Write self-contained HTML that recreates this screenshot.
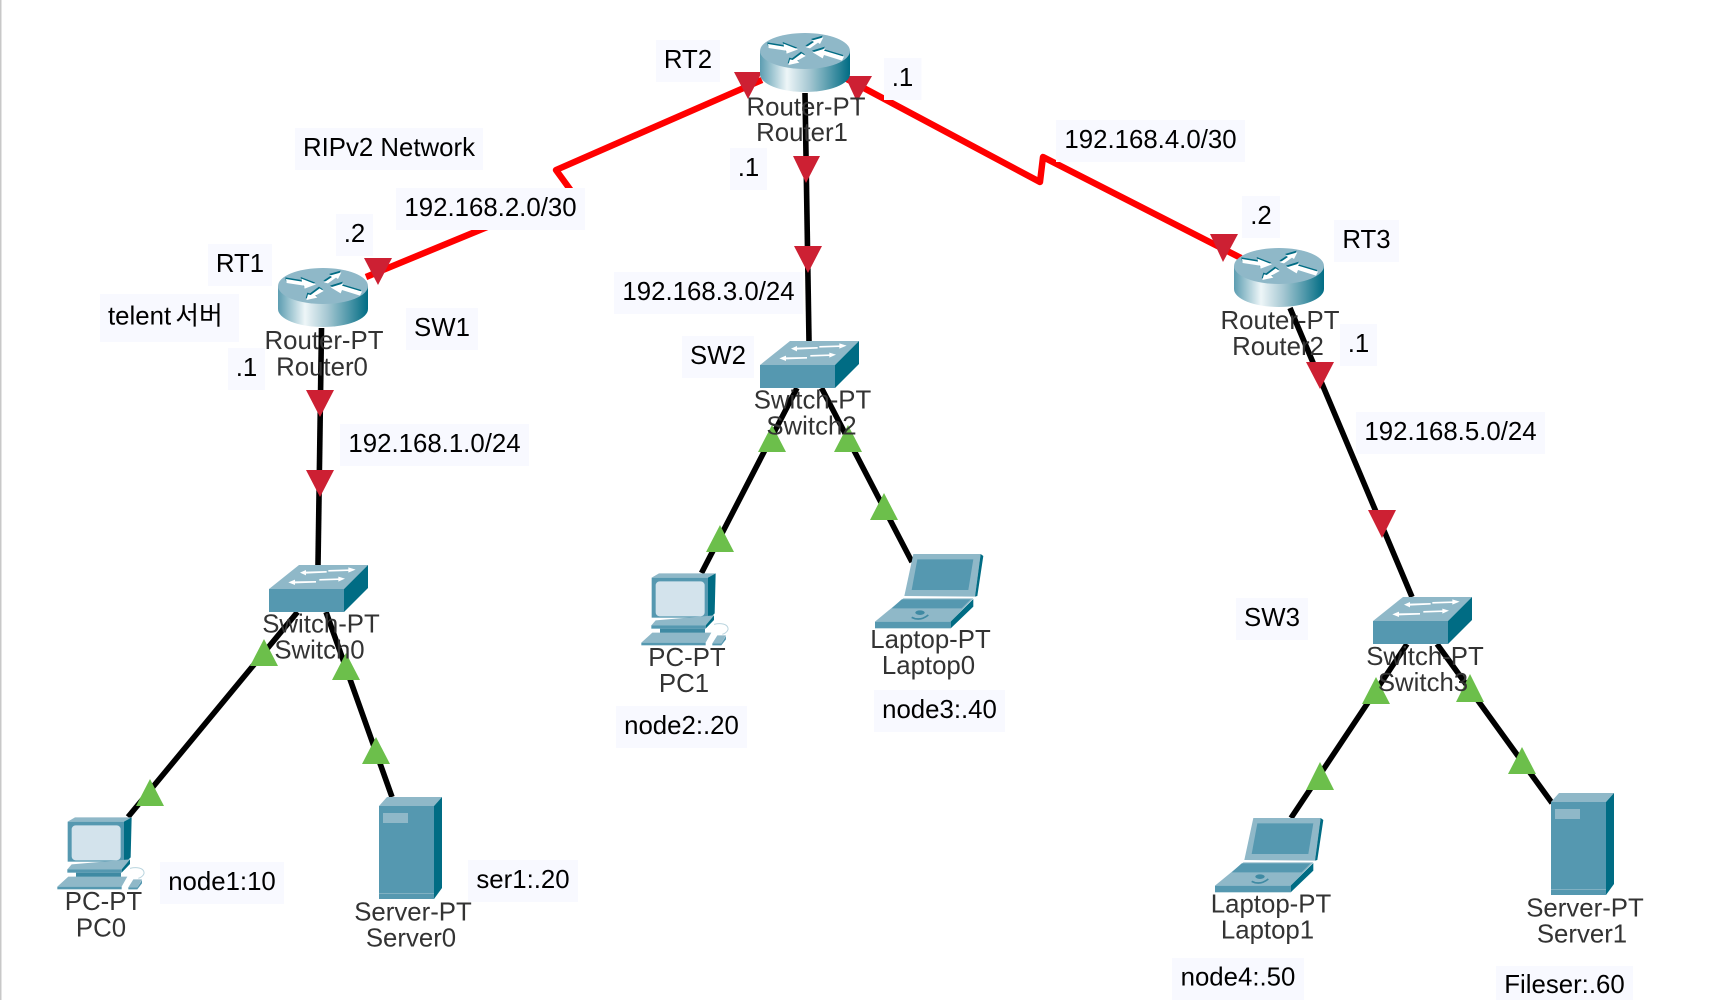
<!DOCTYPE html>
<html lang="en">
<head>
<meta charset="utf-8">
<title>Network topology</title>
<style>
html,body{margin:0;padding:0;background:#fff;width:1712px;height:1000px;overflow:hidden}
svg{display:block}
text{font-family:"Liberation Sans","Noto Sans CJK KR",sans-serif;font-size:25.8px}
.d{fill:#333;text-anchor:middle}
.n{fill:#000;text-anchor:middle}
.b{fill:#f8f9ff}
.k{fill:none;stroke:#000;stroke-width:5.6}
.r{fill:none;stroke:#f00;stroke-width:6.4;stroke-linejoin:round}
.tr{fill:#cd2033}
.tg{fill:#6cbf4b}
</style>
</head>
<body>
<svg width="1712" height="1000" viewBox="0 0 1712 1000" xmlns="http://www.w3.org/2000/svg">
<defs>
<linearGradient id="rg" x1="0" x2="1" y1="0" y2="0">
<stop offset="0" stop-color="#5c9db1"/>
<stop offset=".3" stop-color="#eef6f8"/>
<stop offset=".55" stop-color="#a5c7d2"/>
<stop offset="1" stop-color="#006c84"/>
</linearGradient>
<g id="arrows">
<polygon points="84,72 132,80 130,71 174,88 140,101 138,92 86,84"/>
<polygon points="198,82 222,66 215,62 250,52 240,72 234,68 210,85"/>
<polygon points="312,110 252,92 257,85 218,97 248,115 252,105 306,122"/>
<polygon points="197,108 172,122 178,128 145,135 150,118 158,120 185,100"/>
</g>
<g id="router">
<path d="M760 51V74A45 18 0 0 0 850 74V51Z" fill="url(#rg)"/>
<ellipse cx="805" cy="51" rx="45" ry="18" fill="#8fb8c8"/>
<g transform="translate(740 20) scale(.3333)">
<use href="#arrows" fill="#006c84" transform="translate(-2 -5)"/>
<use href="#arrows" fill="#fff"/>
</g>
</g>
<g id="switch">
<polygon points="269,589 344,589 344,612 269,612" fill="#5598b0"/>
<polygon points="269,589 344,589 368,565 299,565" fill="#8fb8c8"/>
<polygon points="344,589 368,565 368,588 344,612" fill="#006c84"/>
<g transform="translate(260 550) scale(.3333)" fill="#fff">
<polygon points="120,68 138,60 138,65 200,63 200,68 138,71 138,76"/>
<polygon points="205,60 265,58 265,52 287,59 265,68 265,63 205,65"/>
<polygon points="85,97 105,89 105,94 168,93 168,98 105,100 105,105"/>
<polygon points="178,87 235,85 235,80 255,86 235,95 235,90 178,92"/>
</g>
</g>
<g id="server">
<polygon points="0,9 8,0 63,0 55,9" fill="#8fb8c8"/>
<rect x="0" y="9" width="55" height="93" fill="#5598b0"/>
<polygon points="55,9 63,0 63,91 55,102" fill="#006c84"/>
<rect x="4" y="16" width="25" height="10" fill="#8fb8c8"/>
<rect x="0" y="96" width="55" height="1" fill="#7fb0c2"/>
</g>
<g id="pc">
<g transform="translate(50 800) scale(.3333)">
<path d="M240 205C285 195 295 225 265 235" fill="none" stroke="#b9d4de" stroke-width="3"/>
<polygon points="53,65 75,52 245,52 222,65" fill="#8fb8c8"/>
<rect x="53" y="65" width="170" height="120" fill="#5598b0"/>
<polygon points="222,65 245,52 242,172 222,192" fill="#006c84"/>
<rect x="65" y="76" width="147" height="105" rx="12" fill="#d3e3ec"/>
<polygon points="52,208 65,193 240,178 215,208" fill="#8fb8c8"/>
<polygon points="215,208 240,178 240,192 215,218" fill="#006c84"/>
<rect x="52" y="208" width="163" height="10" fill="#5598b0"/>
<rect x="78" y="218" width="135" height="13" fill="#3f8aa3"/>
<polygon points="22,260 55,230 232,230 215,260" fill="#8fb8c8"/>
<rect x="22" y="260" width="193" height="8" fill="#5598b0"/>
<polygon points="235,262 250,238 276,238 262,262" fill="#8fb8c8"/>
<polygon points="235,262 262,262 276,240 276,250 262,268 235,268" fill="#5598b0"/>
</g>
</g>
<g id="laptop">
<g transform="translate(860 540) scale(.3333)">
<polygon points="160,42 362,42 345,170 133,168" fill="#8fb8c8"/>
<polygon points="172,58 340,58 325,150 155,150" fill="#5598b0"/>
<polygon points="362,42 370,48 352,168 345,170" fill="#006c84"/>
<polygon points="45,245 130,175 340,175 272,245" fill="#8fb8c8"/>
<polygon points="95,205 125,178 332,178 305,205" fill="#5598b0"/>
<polygon points="272,245 340,177 340,200 272,265" fill="#006c84"/>
<rect x="45" y="245" width="227" height="20" fill="#5598b0"/>
<ellipse cx="180" cy="218" rx="14" ry="7" fill="#3f8aa3"/>
<path d="M155 232Q180 245 205 225" fill="none" stroke="#3f8aa3" stroke-width="5"/>
</g>
</g>
</defs>

<rect width="1712" height="1000" fill="#fff"/>
<rect x="0" y="0" width="1.5" height="1000" fill="#c8c8c8"/>

<!-- connectors -->
<line class="k" x1="321.5" y1="328" x2="318" y2="565"/>
<line class="k" x1="805" y1="93" x2="809" y2="341"/>
<line class="k" x1="1290" y1="308" x2="1412" y2="597"/>
<line class="k" x1="297.5" y1="612" x2="128" y2="817"/>
<line class="k" x1="326" y1="612" x2="392" y2="797"/>
<line class="k" x1="797" y1="388" x2="701.5" y2="573"/>
<line class="k" x1="821.5" y1="388" x2="912" y2="562"/>
<line class="k" x1="1407" y1="644" x2="1291" y2="818"/>
<line class="k" x1="1437" y1="644" x2="1552" y2="803"/>
<polyline class="r" points="762,80 556,170 572,192 366,277"/>
<polyline class="r" points="845,78 1040,182 1043,157 1241,258"/>

<!-- link state triangles -->
<g class="tr">
<polygon points="734,72 762,72 748,99"/>
<polygon points="845,76 872,76 857,102"/>
<polygon points="793,156 820,156 806,183"/>
<polygon points="794,246 822,246 808,273"/>
<polygon points="364,258 392,258 378,285"/>
<polygon points="306,390 334,390 320,417"/>
<polygon points="306,470 334,470 320,497"/>
<polygon points="1210,234 1238,234 1223,262"/>
<polygon points="1306,362 1334,362 1320,389"/>
<polygon points="1368,510 1396,510 1382,538"/>
</g>
<g class="tg">
<polygon points="250,666 278,666 264,639"/>
<polygon points="136,806 164,806 150,779"/>
<polygon points="332,680 360,680 346,653"/>
<polygon points="362,764 390,764 376,737"/>
<polygon points="706,552 734,552 720,525"/>
<polygon points="758,452 786,452 772,425"/>
<polygon points="834,452 862,452 848,425"/>
<polygon points="870,520 898,520 884,493"/>
<polygon points="1362,704 1390,704 1376,677"/>
<polygon points="1456,702 1484,702 1470,674"/>
<polygon points="1306,790 1334,790 1320,762"/>
<polygon points="1508,774 1536,774 1522,747"/>
</g>

<!-- devices -->
<use href="#router"/>
<use href="#router" transform="translate(-482 235)"/>
<use href="#router" transform="translate(474 215)"/>
<use href="#switch"/>
<use href="#switch" transform="translate(491 -224)"/>
<use href="#switch" transform="translate(1104 32)"/>
<use href="#pc"/>
<use href="#pc" transform="translate(584 -244)"/>
<use href="#server" transform="translate(379 797)"/>
<use href="#server" transform="translate(1551 793)"/>
<use href="#laptop"/>
<use href="#laptop" transform="translate(340 264)"/>

<!-- device labels -->
<text class="d" x="324" y="349">Router-PT</text><text class="d" x="322" y="375.5">Router0</text>
<text class="d" x="806" y="115.5">Router-PT</text><text class="d" x="802" y="141">Router1</text>
<text class="d" x="1280" y="329">Router-PT</text><text class="d" x="1278" y="355">Router2</text>
<text class="d" x="321" y="632.5">Switch-PT</text><text class="d" x="319.5" y="658.5">Switch0</text>
<text class="d" x="812.5" y="408.5">Switch-PT</text><text class="d" x="811.5" y="434.5">Switch2</text>
<text class="d" x="1425" y="665">Switch-PT</text><text class="d" x="1423" y="691">Switch3</text>
<text class="d" x="103.5" y="910">PC-PT</text><text class="d" x="101" y="936.5">PC0</text>
<text class="d" x="687" y="666">PC-PT</text><text class="d" x="684" y="692">PC1</text>
<text class="d" x="413" y="920.5">Server-PT</text><text class="d" x="411" y="946.5">Server0</text>
<text class="d" x="930.5" y="648">Laptop-PT</text><text class="d" x="928.5" y="674">Laptop0</text>
<text class="d" x="1271" y="912.5">Laptop-PT</text><text class="d" x="1267.5" y="938.5">Laptop1</text>
<text class="d" x="1585" y="916.5">Server-PT</text><text class="d" x="1582" y="942.5">Server1</text>

<!-- notes -->
<rect class="b" x="656" y="40" width="64" height="42"/><text class="n" x="688" y="68">RT2</text>
<rect class="b" x="295" y="128" width="188" height="42"/><text class="n" x="389" y="156">RIPv2 Network</text>
<rect class="b" x="396" y="188" width="189" height="42"/><text class="n" x="490.5" y="216">192.168.2.0/30</text>
<rect class="b" x="730" y="148" width="37" height="42"/><text class="n" x="748.5" y="176">.1</text>
<rect class="b" x="336" y="214" width="37" height="42"/><text class="n" x="354.5" y="242">.2</text>
<rect class="b" x="208" y="244" width="64" height="42"/><text class="n" x="240" y="272">RT1</text>
<rect class="b" x="100" y="294" width="139" height="48"/><text x="108" y="324.5" fill="#000" word-spacing="-3">telent 서버</text>
<rect class="b" x="406" y="308" width="72" height="42"/><text class="n" x="442" y="336">SW1</text>
<rect class="b" x="228" y="348" width="37" height="42"/><text class="n" x="246.5" y="376">.1</text>
<rect class="b" x="614" y="272" width="189" height="42"/><text class="n" x="708.5" y="300">192.168.3.0/24</text>
<rect class="b" x="682" y="336" width="72" height="42"/><text class="n" x="718" y="364">SW2</text>
<rect class="b" x="340" y="424" width="189" height="42"/><text class="n" x="434.5" y="452">192.168.1.0/24</text>
<rect class="b" x="884" y="58" width="37.500" height="42"/><text class="n" x="902.500" y="86">.1</text>
<rect class="b" x="1056" y="120" width="189" height="42"/><text class="n" x="1150.5" y="148">192.168.4.0/30</text>
<rect class="b" x="1242" y="196" width="38" height="42"/><text class="n" x="1261" y="224">.2</text>
<rect class="b" x="1334" y="220" width="65" height="42"/><text class="n" x="1366.5" y="248">RT3</text>
<rect class="b" x="1340" y="324" width="37" height="42"/><text class="n" x="1358.5" y="352">.1</text>
<rect class="b" x="1356" y="412" width="189" height="42"/><text class="n" x="1450.5" y="440">192.168.5.0/24</text>
<rect class="b" x="160" y="862" width="124" height="42"/><text class="n" x="222" y="890">node1:10</text>
<rect class="b" x="468" y="860" width="110" height="42"/><text class="n" x="523" y="888">ser1:.20</text>
<rect class="b" x="616" y="706" width="131" height="42"/><text class="n" x="681.5" y="734">node2:.20</text>
<rect class="b" x="874" y="690" width="131" height="42"/><text class="n" x="939.5" y="718">node3:.40</text>
<rect class="b" x="1236" y="598" width="72" height="42"/><text class="n" x="1272" y="626">SW3</text>
<rect class="b" x="1172" y="958" width="132" height="42"/><text class="n" x="1238" y="985.500">node4:.50</text>
<rect class="b" x="1496" y="966" width="137" height="34"/><text class="n" x="1564.5" y="993">Fileser:.60</text>
</svg>
</body>
</html>
